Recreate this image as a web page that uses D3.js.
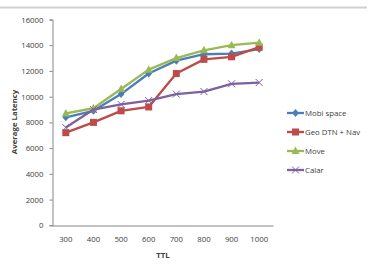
<!DOCTYPE html>
<html><head><meta charset="utf-8">
<script src="https://cdn.jsdelivr.net/npm/d3@7/dist/d3.min.js"></script>
<style>body{margin:0;background:#fff;}svg{display:block;}</style>
</head><body><svg id="c" width="368" height="274"></svg>
<script>
const categories = ["300","400","500","600","700","800","900","1000"];
const mobiSpace = [8400, 8900, 10200, 11800, 12800, 13300, 13350, 13700];
const geoDtnNav = [7200, 8000, 8900, 9200, 11800, 12900, 13100, 13850];
const move = [8700, 9100, 10600, 12100, 13000, 13600, 14000, 14200];
const calar = [7600, 9000, 9400, 9700, 10200, 10400, 11000, 11100];
const yTicks = [0, 2000, 4000, 6000, 8000, 10000, 12000, 14000, 16000];
const seriesNames = ["Mobi space", "Geo DTN + Nav", "Move", "Calar"];
const seriesData = [mobiSpace, geoDtnNav, move, calar];
const colors = ["#4a7ebb", "#be4b48", "#98b954", "#7d60a0"];
const markers = ["diamond", "square", "triangle", "x"];

const svg = d3.select("#c");
const font = "Open Sans, Liberation Sans, sans-serif";
// top border line
svg.append("line").attr("x1",0).attr("x2",367).attr("y1",7.5).attr("y2",7.5)
  .attr("stroke","#d0d0d0").attr("stroke-width",2);

const x = d3.scaleBand().domain(categories).range([52, 273]);
const y = d3.scaleLinear().domain([0, 16000]).range([225.3, 19.5]);

// y axis
const ya = svg.append("g").attr("transform","translate(52.5,0)")
  .call(d3.axisLeft(y).tickValues(yTicks).tickSize(3).tickPadding(6).tickFormat(d3.format("d")));
ya.select(".domain").attr("stroke","#868686");
ya.selectAll(".tick line").attr("stroke","#868686");
ya.selectAll("text").attr("font-family",font).attr("font-size","7.8px").attr("fill","#404040");

// x axis
const xa = svg.append("g").attr("transform","translate(0,225.5)")
  .call(d3.axisBottom(x).tickSize(0).tickPadding(11).tickSizeOuter(0));
xa.select(".domain").attr("stroke","#868686");
xa.selectAll("text").attr("font-family",font).attr("font-size","7.8px").attr("fill","#404040");

// titles
svg.append("text").attr("x",163).attr("y",258).attr("text-anchor","middle")
  .attr("font-family",font).attr("font-size","7.8px").attr("font-weight","bold").attr("fill","#404040").text("TTL");
svg.append("text").attr("transform","translate(17,122) rotate(-90)").attr("text-anchor","middle")
  .attr("font-family",font).attr("font-size","7.8px").attr("font-weight","bold").attr("fill","#404040").text("Average Latency");

function drawMarker(g, type, cx, cy, color){
  if(type==="diamond"){
    g.append("path").attr("d",`M${cx},${cy-4}L${cx+3.5},${cy}L${cx},${cy+4}L${cx-3.5},${cy}Z`).attr("fill",color);
  } else if(type==="square"){
    g.append("rect").attr("x",cx-3.5).attr("y",cy-3.5).attr("width",7).attr("height",7).attr("fill",color);
  } else if(type==="triangle"){
    g.append("path").attr("d",`M${cx},${cy-4.5}L${cx+4},${cy+3}L${cx-4},${cy+3}Z`).attr("fill",color);
  } else {
    g.append("path").attr("d",`M${cx-3.5},${cy-3.5}L${cx+3.5},${cy+3.5}M${cx-3.5},${cy+3.5}L${cx+3.5},${cy-3.5}`)
      .attr("stroke",color).attr("stroke-width",1).attr("fill","none");
  }
}

const line = d3.line().x((d,i)=>x(categories[i])+x.bandwidth()/2).y(d=>y(d));
seriesData.forEach((vals, s) => {
  const g = svg.append("g");
  g.append("path").attr("d", line(vals)).attr("fill","none").attr("stroke",colors[s]).attr("stroke-width",2.3)
    .attr("stroke-linejoin","round");
  vals.forEach((v,i)=> drawMarker(g, markers[s], x(categories[i])+x.bandwidth()/2, y(v), colors[s]));
});

// legend
const legY = [113, 132, 151, 170];
seriesNames.forEach((n, s) => {
  const g = svg.append("g");
  const ly = legY[s];
  g.append("line").attr("x1",287).attr("x2",304).attr("y1",ly).attr("y2",ly).attr("stroke",colors[s]).attr("stroke-width",2.3);
  drawMarker(g, markers[s], 295.5, ly, colors[s]);
  g.append("text").attr("x",305).attr("y",ly+3).attr("font-family",font).attr("font-size","7.8px")
    .attr("fill","#404040").text(n);
});
</script></body></html>
